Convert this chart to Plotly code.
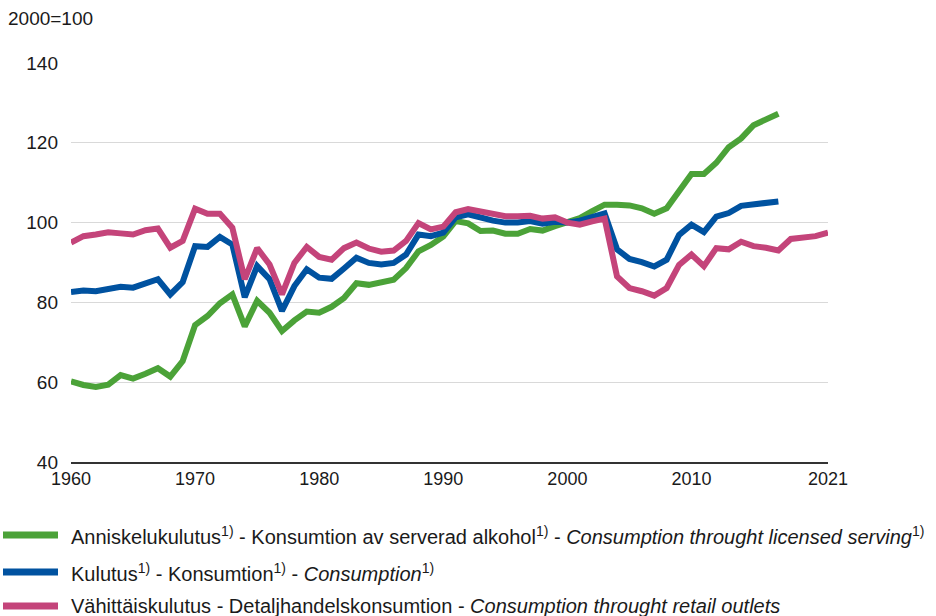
import plotly.graph_objects as go

years_green = list(range(1960, 2018))
green = [60.2, 59.3, 58.8, 59.4, 61.8, 60.9, 62.1, 63.5, 61.4, 65.3,
         74.3, 76.6, 79.8, 82.0, 74.0, 80.4, 77.4, 72.8, 75.5, 77.7,
         77.4, 78.9, 81.1, 84.8, 84.4, 84.9, 85.7, 88.6, 92.8, 94.4,
         96.5, 100.4, 99.8, 97.9, 98.0, 97.2, 97.2, 98.4, 98.0, 99.1,
         100.0, 101.1, 102.9, 104.5, 104.5, 104.3, 103.6, 102.2, 103.6, 108.2,
         112.2, 112.2, 115.0, 118.9, 121.1, 124.4, 125.9, 127.3]

years_blue = list(range(1960, 2018))
blue = [82.6, 83.0, 82.8, 83.4, 83.9, 83.7, 84.9, 85.8, 82.0, 85.1,
        94.1, 93.9, 96.4, 94.5, 81.3, 89.1, 85.8, 77.9, 84.1, 88.3,
        86.2, 85.9, 88.5, 91.2, 89.9, 89.5, 89.9, 92.0, 97.0, 96.6,
        97.5, 101.3, 102.1, 101.2, 100.5, 100.0, 100.0, 100.4, 99.7, 100.2,
        100.0, 100.5, 101.5, 102.3, 93.3, 90.9, 90.1, 89.0, 90.7, 96.9,
        99.5, 97.6, 101.5, 102.4, 104.2, 104.5, 104.7, 105.3]

years_pink = list(range(1960, 2022))
pink = [95.0, 96.6, 97.0, 97.6, 97.3, 97.0, 98.1, 98.5, 93.7, 95.4,
        103.5, 102.2, 102.2, 98.7, 85.8, 93.6, 89.5, 82.0, 89.9, 93.9,
        91.4, 90.7, 93.6, 95.0, 93.5, 92.7, 93.0, 95.4, 99.9, 98.3,
        99.0, 102.6, 103.4, 102.9, 102.2, 101.6, 101.6, 101.7, 101.0, 101.3,
        100.0, 99.5, 100.3, 101.0, 86.5, 83.6, 82.8, 81.7, 83.6, 89.4,
        92.0, 89.1, 93.6, 93.3, 95.2, 94.1, 93.7, 93.0, 95.9, 96.1, 96.6, 97.5]

x_ticks = [1960, 1970, 1980, 1990, 2000, 2010, 2021]
y_ticks = [40, 60, 80, 100, 120, 140]

names = [
    "Anniskelukulutus<sup>1)</sup> - Konsumtion av serverad alkohol<sup>1)</sup> - <i>Consumption throught licensed serving</i><sup>1)</sup>",
    "Kulutus<sup>1)</sup> - Konsumtion<sup>1)</sup> - <i>Consumption</i><sup>1)</sup>",
    "Vähittäiskulutus - Detaljhandelskonsumtion - <i>Consumption throught retail outlets</i>",
]
colors = ["#4ba238", "#0052a0", "#c4447a"]

fig = go.Figure()
for xs, ys, nm, c in [(years_green, green, names[0], colors[0]),
                      (years_blue, blue, names[1], colors[1]),
                      (years_pink, pink, names[2], colors[2])]:
    fig.add_trace(go.Scatter(x=xs, y=ys, mode="lines", name=nm,
                             line=dict(color=c, width=6), showlegend=False))

FONT = "Liberation Sans, Arial, Helvetica, sans-serif"
L, R, T, B = 71, 108, 63, 154
W, H = 936, 616
pw = W - L - R
ph = H - T - B

def px_x(p):
    return (p - L) / pw

def px_y(p):
    return (H - B - p) / ph

# manual legend
rows = [535, 572, 606]
for nm, c, ry in zip(names, colors, rows):
    fig.add_shape(type="line", xref="paper", yref="paper",
                  x0=px_x(3), x1=px_x(58), y0=px_y(ry), y1=px_y(ry),
                  line=dict(color=c, width=7))
    fig.add_annotation(text=nm, xref="paper", yref="paper",
                       x=px_x(69), y=px_y(ry), xanchor="left", yanchor="middle",
                       showarrow=False, font=dict(size=20, color="#1a1a1a", family=FONT))

fig.add_annotation(text="2000=100", xref="paper", yref="paper",
                   x=px_x(6), y=px_y(18), xanchor="left", yanchor="middle",
                   showarrow=False, font=dict(size=19, color="#1a1a1a", family=FONT))

fig.update_layout(
    width=W, height=H,
    margin=dict(l=L, r=R, t=T, b=B),
    paper_bgcolor="white", plot_bgcolor="white",
    font=dict(family=FONT, size=18, color="#1a1a1a"),
    xaxis=dict(range=[1960, 2021], tickvals=x_ticks, ticktext=[str(v) for v in x_ticks],
               showgrid=False, zeroline=False, showline=True, linecolor="#333333",
               linewidth=1.5, ticks="", tickfont=dict(size=18)),
    yaxis=dict(range=[40, 140], tickvals=y_ticks, showgrid=True, gridcolor="#d9d9d9",
               gridwidth=1, zeroline=False, showline=False, ticks="",
               ticklabelstandoff=12, tickfont=dict(size=19)),
)

fig.write_html("out.html",
               config={"displayModeBar": False},
               post_script="document.body.style.margin='0';document.body.style.padding='0';")
